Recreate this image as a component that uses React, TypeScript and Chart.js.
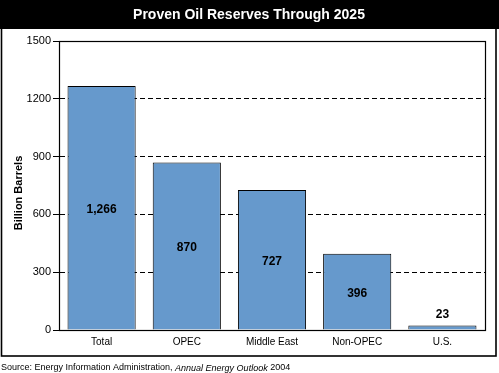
import React, { useEffect, useRef } from "react";
import { Chart, registerables } from "chart.js";

Chart.register(...registerables);

const TITLE = "Proven Oil Reserves Through 2025";
const Y_TITLE = "Billion Barrels";
const categories = ["Total", "OPEC", "Middle East", "Non-OPEC", "U.S."];
const reserves = [1266, 870, 727, 396, 23];
const yMin = 0;
const yMax = 1500;
const yStep = 300;
const SOURCE_PLAIN = "Source: Energy Information Administration, ";
const SOURCE_ITALIC = "Annual Energy Outlook";
const SOURCE_TAIL = " 2004";

const FONT = "'Liberation Sans', Arial, Helvetica, sans-serif";

const decorPlugin = {
  id: "decor",
  beforeDraw(chart: any) {
    const { ctx, width, height } = chart;
    ctx.save();
    ctx.fillStyle = "#ffffff";
    ctx.fillRect(0, 0, width, height);
    // title bar
    ctx.fillStyle = "#000000";
    ctx.fillRect(0, 0, width, 29);
    ctx.fillStyle = "#ffffff";
    ctx.font = `bold 14px ${FONT}`;
    ctx.textAlign = "center";
    ctx.textBaseline = "middle";
    ctx.fillText(TITLE, 249, 15);
    ctx.restore();
  },
  afterDraw(chart: any) {
    const { ctx, chartArea } = chart;
    ctx.save();
    // plot box
    ctx.strokeStyle = "#000000";
    ctx.lineWidth = 1.2;
    ctx.strokeRect(
      Math.round(chartArea.left) + 0.5,
      Math.round(chartArea.top) + 0.5,
      Math.round(chartArea.right - chartArea.left),
      Math.round(chartArea.bottom - chartArea.top)
    );
    // outer frame
    ctx.lineWidth = 1.6;
    ctx.strokeRect(1.5, 0.5, 494.5, 355.5);
    // y title
    ctx.fillStyle = "#000000";
    ctx.font = `bold 11px ${FONT}`;
    ctx.translate(19, 193);
    ctx.rotate(-Math.PI / 2);
    ctx.textAlign = "center";
    ctx.textBaseline = "middle";
    ctx.fillText(Y_TITLE, 0, 0);
    ctx.restore();

    // value labels
    ctx.save();
    ctx.fillStyle = "#000000";
    ctx.font = `bold 12px ${FONT}`;
    ctx.textAlign = "center";
    ctx.textBaseline = "middle";
    const meta = chart.getDatasetMeta(0);
    meta.data.forEach((bar: any, i: number) => {
      const v = reserves[i];
      const txt = v.toLocaleString("en-US");
      const h = bar.base - bar.y;
      const y = h < 24 ? bar.y - 11 : (bar.y + bar.base) / 2 + 2;
      ctx.fillText(txt, bar.x, y);
    });
    // source
    ctx.textAlign = "left";
    ctx.font = `9px ${FONT}`;
    let x = 1;
    const sy = 368;
    ctx.fillText(SOURCE_PLAIN, x, sy);
    x += ctx.measureText(SOURCE_PLAIN).width;
    ctx.font = `italic 9px ${FONT}`;
    ctx.fillText(SOURCE_ITALIC, x, sy);
    x += ctx.measureText(SOURCE_ITALIC).width;
    ctx.font = `9px ${FONT}`;
    ctx.fillText(SOURCE_TAIL, x, sy);
    ctx.restore();
  },
};

export default function App() {
  const ref = useRef<HTMLCanvasElement | null>(null);
  useEffect(() => {
    if (!ref.current) return;
    const chart = new Chart(ref.current, {
      type: "bar",
      data: {
        labels: categories,
        datasets: [
          {
            data: reserves,
            backgroundColor: "#6699CC",
            borderColor: "#000000",
            borderWidth: 1,
            barPercentage: 0.8,
            categoryPercentage: 1,
          },
        ],
      },
      options: {
        animation: false,
        responsive: false,
        devicePixelRatio: 1,
        layout: { padding: { left: 0, top: 41, right: 14, bottom: 0 } },
        plugins: {
          legend: { display: false },
          tooltip: { enabled: false },
          title: { display: false },
        },
        scales: {
          x: {
            grid: { display: false, drawTicks: false },
            border: { display: true, color: "#000000", width: 1 },
            ticks: {
              color: "#000000",
              font: { family: FONT, size: 10 },
              padding: 6,
              maxRotation: 0,
              autoSkip: false,
            },
            afterFit(scale: any) {
              scale.height = 43;
            },
          },
          y: {
            min: yMin,
            max: yMax,
            grid: {
              color: "#000000",
              lineWidth: 1,
              drawTicks: true,
              tickLength: 6,
              tickColor: "#000000",
            },
            border: { display: true, color: "#000000", width: 1, dash: [5, 3] },
            ticks: {
              stepSize: yStep,
              color: "#000000",
              font: { family: FONT, size: 11 },
              padding: 2,
              callback: (v: any) => String(v),
            },
            afterFit(scale: any) {
              scale.width = 59;
            },
          },
        },
      },
      plugins: [decorPlugin],
    });
    return () => chart.destroy();
  }, []);
  return (
    <div style={{ position: "absolute", left: 0, top: 0, width: 499, height: 373 }}>
      <canvas ref={ref} width={499} height={373} />
    </div>
  );
}
